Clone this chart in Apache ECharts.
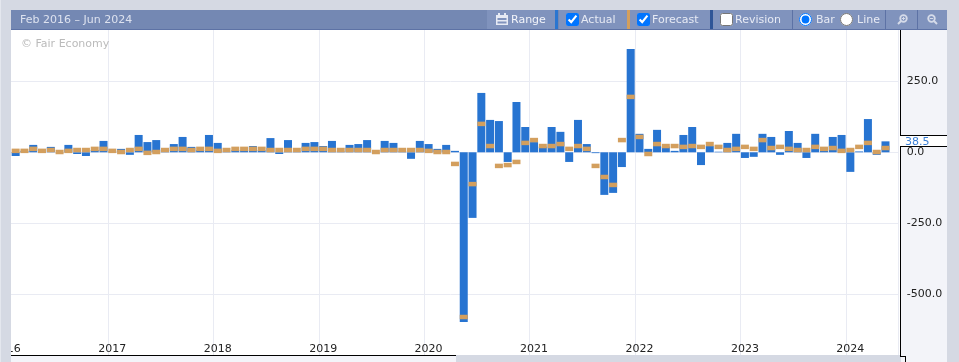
<!DOCTYPE html>
<html>
<head>
<meta charset="utf-8">
<style>
  html, body { margin: 0; padding: 0; width: 959px; height: 362px; overflow: hidden; background: #d5d9e3; }
  body, input { font-family: "DejaVu Sans", sans-serif; font-size: 11px; }
  div, input, svg { position: absolute; }
  input { margin: 0; width: 13px; height: 13px; top: 13px; }
  .t { top: 10px; height: 19px; line-height: 20px; color: #e6eaf4; white-space: nowrap; }
  .sep { top: 10px; width: 1px; height: 19px; background: #5d72a5; }
  .strip { top: 10px; width: 3px; height: 19px; }
  .btn { top: 10px; height: 19px; background: #8093bd; }
  .k { left: 900px; width: 47px; height: 1px; background: #000; }
</style>
</head>
<body>
<div style="left:0;top:0;width:1px;height:362px;background:#e4e7ee"></div>
<div style="left:11px;top:30px;width:890px;height:325px;background:#fff"></div>
<div style="left:901px;top:30px;width:46px;height:332px;background:#f3f4f9"></div>
<div style="left:11px;top:356px;width:445px;height:6px;background:#f3f4f9"></div>
<div id="chart" style="left:0;top:0;width:959px;height:362px"></div>

<div style="left:0;top:0;width:11px;height:362px;background:#d5d9e3;z-index:2"></div>
<div style="left:0;top:0;width:1px;height:362px;background:#e4e7ee;z-index:2"></div>
<div style="left:21px;top:37px;height:13px;line-height:13px;color:#bbb;z-index:2">© Fair Economy</div>

<div style="left:900px;top:30px;width:1px;height:105px;background:#000;z-index:2"></div>
<div style="left:900px;top:146px;width:1px;height:210px;background:#000;z-index:2"></div>
<div class="k" style="top:135px;z-index:2"></div>
<div class="k" style="top:146px;z-index:2"></div>
<div style="left:901px;top:136px;width:46px;height:10px;background:#fff"></div>
<div id="lastTag" style="left:905px;top:135px;height:12px;line-height:13px;color:#3a7fd6;z-index:2"></div>
<div style="left:11px;top:355px;width:445px;height:1px;background:#000;z-index:2"></div>
<div style="left:900px;top:356px;width:5px;height:1px;background:#000;z-index:2"></div>
<div style="left:905px;top:356px;width:1px;height:6px;background:#000;z-index:2"></div>

<div style="left:11px;top:10px;width:936px;height:19px;background:#7488b3;z-index:3">
</div>
<div style="left:11px;top:29px;width:936px;height:1px;background:#5d72a5;z-index:3"></div>
<div id="bar" style="left:0;top:0;width:959px;height:30px;z-index:4">
  <div class="t" style="left:20px;color:#dde2ef">Feb 2016 – Jun 2024</div>
  <div class="btn" style="left:487px;width:68px"></div>
  <div class="btn" style="left:559px;width:68px"></div>
  <div class="btn" style="left:630px;width:80px"></div>
  <div class="btn" style="left:713px;width:79px"></div>
  <div class="btn" style="left:793px;width:92px"></div>
  <div class="btn" style="left:886px;width:31px"></div>
  <div class="btn" style="left:918px;width:29px"></div>
  <svg style="left:496px;top:13px" width="12" height="13" viewBox="0 0 12 13">
    <path d="M0 2h12v10H0z M1.5 5v2h9V5z M1.5 8.5v2h9v-2z" fill="#e6eaf4" fill-rule="evenodd"/>
    <rect x="2" y="0" width="2" height="3" fill="#e6eaf4"/><rect x="8" y="0" width="2" height="3" fill="#e6eaf4"/>
  </svg>
  <div class="t" style="left:511px;color:#f2f4fa">Range</div>
  <div class="strip" style="left:555px;background:#2a75d0"></div>
  <input type="checkbox" checked style="left:566px">
  <div class="t" style="left:581px">Actual</div>
  <div class="strip" style="left:627px;background:#d39f5e"></div>
  <input type="checkbox" checked style="left:637px">
  <div class="t" style="left:652px">Forecast</div>
  <div class="strip" style="left:710px;background:#2f5597"></div>
  <input type="checkbox" style="left:720px">
  <div class="t" style="left:735px">Revision</div>
  <div class="sep" style="left:792px"></div>
  <input type="radio" name="m" checked style="left:799px">
  <div class="t" style="left:816px">Bar</div>
  <input type="radio" name="m" style="left:840px">
  <div class="t" style="left:857px">Line</div>
  <div class="sep" style="left:885px"></div>
  <svg style="left:897px;top:14px" width="11" height="11" viewBox="0 0 11 11">
    <circle cx="6.5" cy="4.5" r="3.3" fill="none" stroke="#d5dbe9" stroke-width="1.8"/>
    <path d="M4 7L1 10" stroke="#d5dbe9" stroke-width="2"/>
    <path d="M4.8 4.5h3.4M6.5 2.8v3.4" stroke="#d5dbe9" stroke-width="1"/>
  </svg>
  <div class="sep" style="left:917px"></div>
  <svg style="left:927px;top:14px" width="11" height="11" viewBox="0 0 11 11">
    <circle cx="4.5" cy="4.5" r="3.3" fill="none" stroke="#d5dbe9" stroke-width="1.8"/>
    <path d="M7 7l3 3" stroke="#d5dbe9" stroke-width="2"/>
    <path d="M2.8 4.5h3.4" stroke="#d5dbe9" stroke-width="1"/>
  </svg>
</div>

<script src="https://cdn.jsdelivr.net/npm/echarts@6/dist/echarts.min.js"></script>
<script>
  // months from Jan 2016 (off the left edge) to Jun 2024 (no release yet)
  const categories = [];
  for (let y = 2016; y <= 2024; y++) {
    for (let m = 1; m <= 12; m++) {
      if (y === 2024 && m > 6) break;
      categories.push(y + '-' + (m < 10 ? '0' + m : m));
    }
  }

  const actual = [null,
    -13, 5, 26, 3, 19, 1, 26, -6, -13, 8, 40,
    3, 12, -9, 61, 36, 43, 3, 29, 54, 19, 8, 61,
    33, 2, 7, 7, 22, 7, 50, -6, 43, 3, 33, 36,
    22, 40, 3, 26, 29, 43, 1, 40, 33, 3, -23, 40,
    29, 12, 26, 5, -597.5, -231, 209, 114, 110, -34, 177, 89,
    36, 20, 89, 72, -34, 114, 29, -3, -150, -143, -52, 364,
    65, 12, 79, 20, 5, 61, 89, -45, 22, 2, 33, 65,
    -20, -16, 65, 54, -9, 75, 33, -20, 65, 5, 54, 61,
    -69, 3, 117, -9, 38.5,
    null];

  const forecast = [null,
    5, 5, 12, 5, 8, 1, 5, 8, 8, 12, 12,
    5, 1, 8, 12, -2, 1, 8, 12, 12, 8, 12, 12,
    5, 8, 12, 12, 12, 12, 8, 8, 8, 8, 12, 12,
    12, 8, 8, 8, 8, 8, 1, 8, 8, 8, 8, 8,
    5, 1, 1, -41, -580, -112, 100, 22, -48, -45, -34, 33,
    43, 22, 22, 29, 12, 22, 12, -48, -87, -115, 43, 195,
    54, -6, 29, 22, 22, 19, 22, 19, 29, 19, 8, 12,
    19, 12, 43, 15, 19, 12, 8, 8, 19, 12, 15, 5,
    8, 19, 33, 1, 15,
    null];

  const yTicks = [-500, -250, 0, 250];

  document.getElementById('lastTag').textContent = actual[actual.length - 2].toFixed(1);

  const chart = echarts.init(document.getElementById('chart'), null, {renderer: 'canvas'});

  chart.setOption({
    animation: false,
    backgroundColor: 'transparent',
    textStyle: {fontFamily: '"DejaVu Sans", sans-serif'},
    grid: {left: 2.47, width: 896.2, top: 30, height: 325, outerBoundsMode: 'none'},
    xAxis: {
      type: 'category',
      data: categories,
      axisLine: {show: false, onZero: false},
      axisTick: {show: false, alignWithLabel: true},
      axisLabel: {
        inside: true,
        interval: 11,
        margin: 0,
        color: '#222222',
        fontSize: 11,
        hideOverlap: false,
        formatter: value => value.slice(0, 4)
      },
      splitLine: {show: true, interval: 11, lineStyle: {color: '#e9ebf3', width: 1}}
    },
    yAxis: {
      type: 'value',
      position: 'right',
      min: -713.8,
      max: 430.6,
      axisLine: {show: false},
      axisTick: {show: false, customValues: yTicks},
      axisLabel: {
        customValues: yTicks,
        margin: 8,
        padding: [4, 0, 0, 0],
        color: '#222222',
        fontSize: 11,
        formatter: value => value.toFixed(1)
      },
      splitLine: {show: true, lineStyle: {color: '#e9ebf3', width: 1}}
    },
    series: [
      {
        type: 'bar',
        name: 'Actual',
        data: actual,
        barWidth: 8,
        silent: true,
        itemStyle: {color: '#2774d1'}
      },
      {
        type: 'scatter',
        name: 'Forecast',
        data: forecast,
        symbol: 'rect',
        symbolSize: [8, 4.5],
        silent: true,
        z: 5,
        itemStyle: {color: '#d39f5e', opacity: 1}
      }
    ]
  });
</script>
</body>
</html>
